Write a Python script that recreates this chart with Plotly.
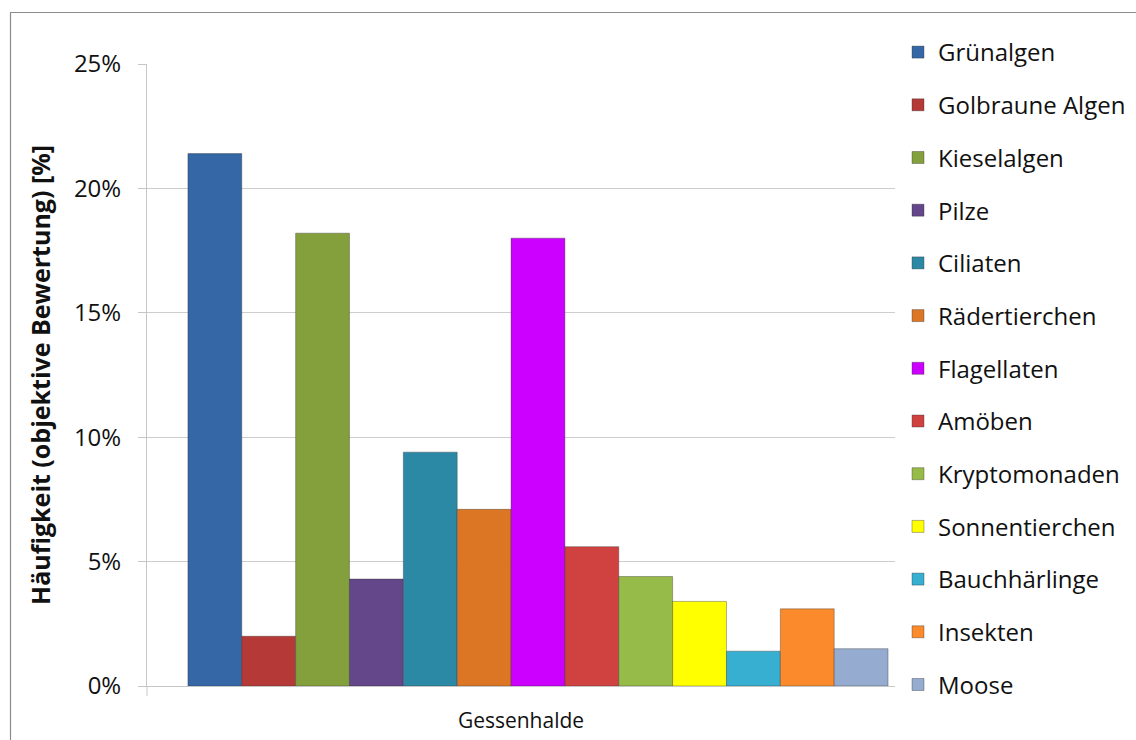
import plotly.graph_objects as go

# Relative frequency of organism groups at the Gessenhalde site (objective rating, %)
site = "Gessenhalde"
groups = [
    "Grünalgen", "Golbraune Algen", "Kieselalgen", "Pilze", "Ciliaten",
    "Rädertierchen", "Flagellaten", "Amöben", "Kryptomonaden",
    "Sonnentierchen", "Bauchhärlinge", "Insekten", "Moose",
]
share_pct = [21.4, 2.0, 18.2, 4.3, 9.4, 7.1, 18.0, 5.6, 4.4, 3.4, 1.4, 3.1, 1.5]
colors = [
    "#3566a5", "#b53937", "#84a03c", "#64468a", "#2c89a5",
    "#dc7624", "#cc00ff", "#cf4240", "#97bb48",
    "#ffff00", "#36afd0", "#fb8a2c", "#95abcf",
]
y_ticks = [0, 5, 10, 15, 20, 25]

FONT = "Open Sans"
INK = "#111111"
W, H = 1136, 740
L, R, T, B = 147, 895, 64, 686  # plot area in pixels

fig = go.Figure()
for name, val, col in zip(groups, share_pct, colors):
    fig.add_trace(go.Bar(
        name=name, x=[site], y=[val],
        marker=dict(color=col, line=dict(color="rgba(40,40,40,0.35)", width=1)),
        legendgroup=name,
    ))

fig.update_layout(
    width=W, height=H,
    margin=dict(l=L, r=W - R, t=T, b=H - B, pad=0, autoexpand=False),
    paper_bgcolor="white", plot_bgcolor="white",
    barmode="group", bargap=0.064, bargroupgap=0,
    font=dict(family=FONT, size=21, color=INK),
    showlegend=True,
    legend=dict(
        xref="container", yref="container",
        x=898 / W, xanchor="left",
        y=1 - 30 / H, yanchor="top",
        traceorder="grouped", tracegroupgap=18.5, maxheight=730,
        font=dict(family=FONT, size=24, color=INK),
        bgcolor="rgba(0,0,0,0)", itemclick=False,
    ),
    xaxis=dict(
        range=[-0.5227, 0.4773], showticklabels=False, ticks="",
        showline=True, linecolor="#c6c6c6", linewidth=1,
        showgrid=False, zeroline=False,
        title=dict(text=site, standoff=27, font=dict(family=FONT, size=21, color=INK)),
    ),
    yaxis=dict(
        range=[0, 25], tickvals=y_ticks, ticktext=[f"{v}%" for v in y_ticks],
        ticks="outside", ticklen=8, tickcolor="#c6c6c6", ticklabelstandoff=12,
        showline=True, linecolor="#c6c6c6", linewidth=1,
        showgrid=True, gridcolor="#cdcdcd", gridwidth=1, zeroline=False,
        tickfont=dict(family=FONT, size=24, color=INK),
        title=dict(text="<b>Häufigkeit (objektive Bewertung) [%]</b>", standoff=16,
                   font=dict(family=FONT, size=25, color=INK)),
    ),
    shapes=[
        # chart-area frame
        dict(type="rect", xref="paper", yref="paper",
             x0=(10.5 - L) / (R - L), x1=(W + 5 - L) / (R - L),
             y0=-(H + 5 - B) / (B - T), y1=1 + (T - 12.5) / (B - T),
             line=dict(color="#8c8c8c", width=1.2), fillcolor="rgba(0,0,0,0)", layer="below"),
        # category boundary tick below the axis start
        dict(type="line", xref="paper", yref="paper",
             x0=0, x1=0, y0=0, y1=-10 / (B - T),
             line=dict(color="#c6c6c6", width=1)),
    ],
)

fig.write_html("out.html")
